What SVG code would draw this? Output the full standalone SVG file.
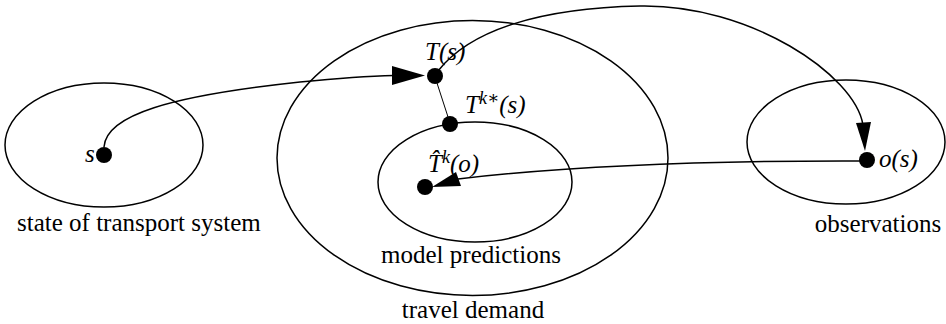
<svg xmlns="http://www.w3.org/2000/svg" width="946" height="324" viewBox="0 0 946 324">
<style>
.set{fill:none;stroke:#000;stroke-width:1.5}
.dot{fill:#000}
text{font-family:'Liberation Serif','DejaVu Serif',serif;font-size:25px;fill:#000}
.m{font-style:italic}
.sup{font-size:18px}
.con{fill:none;stroke:#000;stroke-width:1.5}
.thin{fill:none;stroke:#000;stroke-width:1}
.head{fill:#000}
</style>
<rect width="946" height="324" fill="#fff"/>
<g id="state-set">
  <ellipse class="set" cx="104" cy="145" rx="99" ry="62"/>
  <text x="17" y="231" font-family="Liberation Serif, serif">state of transport system</text>
</g>
<g id="travel-demand-set">
  <ellipse class="set" cx="472.5" cy="158" rx="195.5" ry="137.5"/>
  <text x="473" y="318" text-anchor="middle" font-family="Liberation Serif, serif">travel demand</text>
</g>
<g id="model-predictions-set">
  <ellipse class="set" cx="475" cy="182" rx="97" ry="60"/>
  <text x="471" y="263" text-anchor="middle" font-family="Liberation Serif, serif">model predictions</text>
</g>
<g id="observations-set">
  <ellipse class="set" cx="846" cy="142" rx="99" ry="62"/>
  <text x="878" y="232" text-anchor="middle" font-family="Liberation Serif, serif">observations</text>
</g>
<g id="node-s">
  <circle class="dot" cx="104" cy="155" r="8"/>
  <text class="m" x="85" y="162" font-family="Liberation Serif, serif">s</text>
</g>
<g id="node-Ts">
  <circle class="dot" cx="435" cy="76" r="8"/>
  <text class="m" x="425" y="60" font-family="Liberation Serif, serif">T(s)</text>
</g>
<g id="node-Tks">
  <circle class="dot" cx="450" cy="124" r="8"/>
  <text class="m" x="465" y="113" font-family="Liberation Serif, serif">T<tspan class="sup" dy="-9">k∗</tspan><tspan dy="9">(s)</tspan></text>
</g>
<g id="node-That">
  <circle class="dot" cx="425" cy="187" r="8"/>
  <text class="m" x="428" y="172" font-family="Liberation Serif, serif">T̂<tspan class="sup" dy="-9">k</tspan><tspan dy="9">(o)</tspan></text>
</g>
<g id="node-os">
  <circle class="dot" cx="867" cy="160" r="8"/>
  <text class="m" x="879" y="167" font-family="Liberation Serif, serif">o(s)</text>
</g>
<g id="connectors">
  <path class="con" d="M104,147 C106,115 170,96 300,82 C340,78 370,76 394,75.5"/>
  <polygon class="head" points="425,75.5 392,66 392,85"/>
  <path class="con" d="M438,71 C470,30 540,8 640,6 C750,4 855,75 863,125"/>
  <polygon class="head" points="865,151 856,123 871,122"/>
  <path class="con" d="M867,161 Q620,160 458,179"/>
  <polygon class="head" points="432,187 456,172 461,186"/>
  <line class="thin" x1="436" y1="80" x2="449" y2="120"/>
</g>
</svg>
